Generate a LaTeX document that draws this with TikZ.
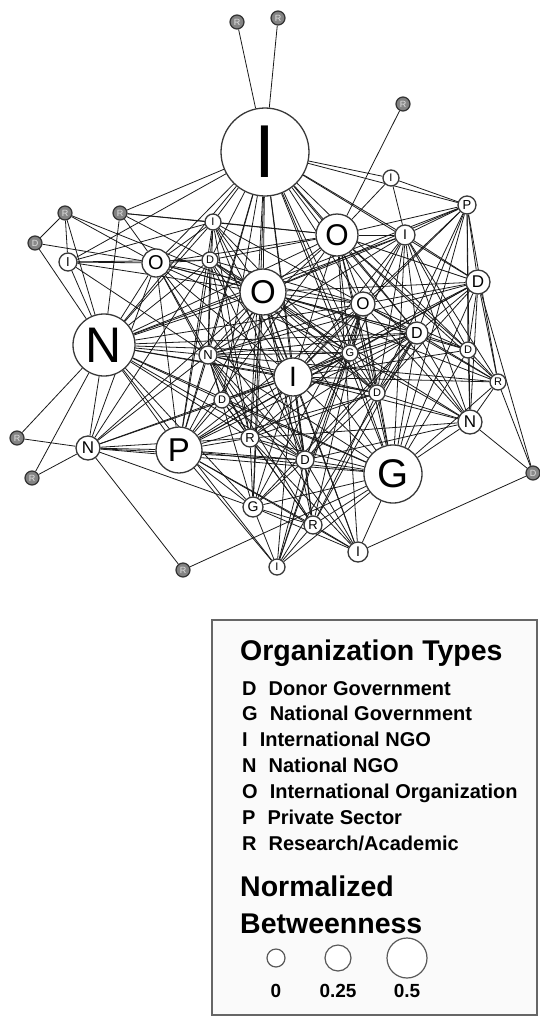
\documentclass[tikz,border=0pt]{standalone}
\usepackage{fontspec}
\setmainfont{Liberation Sans}
\pgfdeclarelayer{bg}
\pgfsetlayers{bg,main}
\pgfdeclareradialshading{wball}{\pgfpoint{0bp}{0bp}}{color(0bp)=(white); color(30bp)=(white); color(43bp)=(black!8); color(50bp)=(black!30)}
\pgfdeclareradialshading{kball}{\pgfpoint{0bp}{0bp}}{color(0bp)=(black!45); color(32bp)=(black!52); color(50bp)=(black!72)}
\tikzset{
  wn/.style={circle, draw=black!78, line width=1.3pt, inner sep=0pt, shading=wball},
  dk/.style={circle, draw=black!80, line width=1.2pt, inner sep=0pt, shading=kball, text=black!12},
  edge/.style={draw=black!90, line width=0.8pt},
  lc/.style={circle, draw=black!65, line width=1.2pt, fill=white, inner sep=0pt},
  lgt/.style={anchor=base west, inner sep=0pt, font=\bfseries\fontsize{28.5}{28.5}\selectfont},
  lge/.style={anchor=base west, inner sep=0pt, font=\bfseries\fontsize{20}{20}\selectfont},
  lgn/.style={anchor=base, inner sep=0pt, font=\bfseries\fontsize{19}{19}\selectfont}
}
\begin{document}
\begin{tikzpicture}[x=1pt,y=-1pt]
\useasboundingbox (0,0) rectangle (540,1018);
% white nodes
\foreach \n/\x/\y/\r/\l/\f in {
 BI/265/152/44/I/75, o1/337/235/21/O/30, i1/391/178/8/I/11, p1/467/205/9/P/13,
 i2/405/235/10/I/14, d1/478/282/12/D/17, o2/363/304/12/O/17, d2/417/333/11/D/16,
 d3/468/350/8/D/11, r4/498/382/8/R/11, n1/470/422/12/N/17, G/393/474/29/G/40,
 i3/358/552/10/I/14, r5/313/525/9/R/13, g1/253/507/10/G/14, i4/277/567/8/I/11,
 d4/305/460/9/D/13, r6/250/438/9/R/13, d5/222/400/8/D/11, P/179/450/23/P/33,
 n2/88/448/12/N/17, N/104/345/31/N/50, n3/208/355/9/N/13, o3/156/263/14/O/20,
 i5/68/262/9/I/13, i6/213/222/8/I/11, d6/210/260/8/D/11, O/263/292/23/O/33,
 I/293/377/19/I/28, g2/350/353/8/G/11, d7/377/393/8/D/11}{
  \node[wn, minimum size=2*\r pt, font=\fontsize{\f}{\f}\selectfont] (\n) at (\x,\y) {\l};
}
% dark peripheral nodes
\foreach \n/\x/\y/\l in {
 r1/237/22/R, r2/278/18/R, r3/403/104/R, x1/533/473/D, x2/183/570/R,
 x3/17/438/R, x4/32/478/R, x5/35/243/D, x6/65/213/R, x7/120/213/R}{
  \node[dk, minimum size=14pt, font=\fontsize{9}{9}\selectfont] (\n) at (\x,\y) {\l};
}
\begin{pgfonlayer}{bg}
\foreach \a/\bs in {
 BI/{r1,r2,i1,p1,i2,o1,O,I,o3,x7,i5,i6,d6,o2,n3,N,G,g2,d7,d4,r6,d2,d1,g1,d5,P,n1,d3},
 O/{o1,i2,o2,d1,d2,I,N,o3,n3,P,G,g1,r6,d4,d5,i6,d6,g2,d7,r5,i3,p1,n1,d3,r4,n2,i5,x6},
 I/{o1,o2,d2,d1,G,P,N,n3,g1,r6,d4,r5,i3,i4,o3,d6,i6,n1,r4,d3,g2,d7,d5,n2,i2,p1},
 o1/{r3,i2,p1,d1,o2,d2,g2,N,o3,d6,n3,G,P,i1,d3,r4,i3,d7,i6,x7},
 G/{n1,i3,r5,g1,d4,r6,P,N,n3,o2,d2,d3,r4,d1,i2,p1,d7,g2,i4,n2,x2,d5},
 N/{x5,x7,i5,o3,d6,i6,n3,P,n2,r6,g1,d4,d5,g2,d7,o2,d2,i2,p1,i4,x4,x3,x6},
 P/{n2,r6,d4,g1,i3,i4,n3,o2,d2,d1,d5,g2,d7,r5,o3,i6,d6},
 n2/{x3,x4,x2,o3,d6,n3,r6,d4,g1,d5},
 x1/{n1,r4,i3,d1},
 i3/{r5,g1,d4,r6,n3},
 i4/{r5,d4,o2,g1,d2,g2},
 g1/{r6,d4,r5,n3,o2,d2},
 r5/{n3,o2,d2,d4,r6,d5,d7},
 n1/{d1,d2,d3,r4,o2,g2,d7,r6,d4,i2,p1},
 r4/{d1,p1,d3,d2,o2,i2,n3},
 d3/{d2,d1,p1,o2,i2},
 d1/{p1,i2,d2,o2,g2,d7,n3},
 p1/{i1,i2,d2,o2,d7},
 i2/{i1,o2,d2,g2,d7,n3},
 o2/{d2,g2,d7,n3,d4,o3,d6,i6},
 d2/{g2,d7,n3,d4,r6,o3},
 o3/{x5,x6,x7,i5,d6,i6,n3,r6,d4,g2},
 i5/{x6,d6,i6,n3},
 i6/{d6,n3,d4,r6,d7,x7},
 d6/{n3,d4,r6,g2,d7,x7},
 n3/{r6,d4,d5,g2,d7},
 r6/{d4,g2,d7,d5},
 d4/{g2,d7,d5},
 g2/{d7,d5},
 x6/{x5}}{
  \foreach \b in \bs { \draw[edge] (\a) -- (\b); }
}
\end{pgfonlayer}
% legend
\draw[fill=black!2, draw=black!60, line width=1.5pt] (212,620) rectangle (537,1015);
\node[lgt] (lt1) at (240,660) {Organization Types};
\foreach \yy/\k/\t in {695/D/{Donor Government}, 720/G/{National Government},
  746/I/{International NGO}, 772/N/{National NGO}, 798/O/{International Organization},
  824/P/{Private Sector}, 850/R/{Research/Academic}}{
  \node[lge] (e\k) at (242,\yy) {\k\hspace{0.6em}\t};
}
\node[lgt] (lt2) at (240,896) {Normalized};
\node[lgt] (lt3) at (240,933) {Betweenness};
\node[lc, minimum size=18pt] (c0) at (276,958) {};
\node[lc, minimum size=26pt] (c1) at (338,958) {};
\node[lc, minimum size=40pt] (c2) at (407,958) {};
\node[lgn] (l0) at (276,997) {0};
\node[lgn] (l1) at (338,997) {0.25};
\node[lgn] (l2) at (407,997) {0.5};
\end{tikzpicture}
\end{document}
